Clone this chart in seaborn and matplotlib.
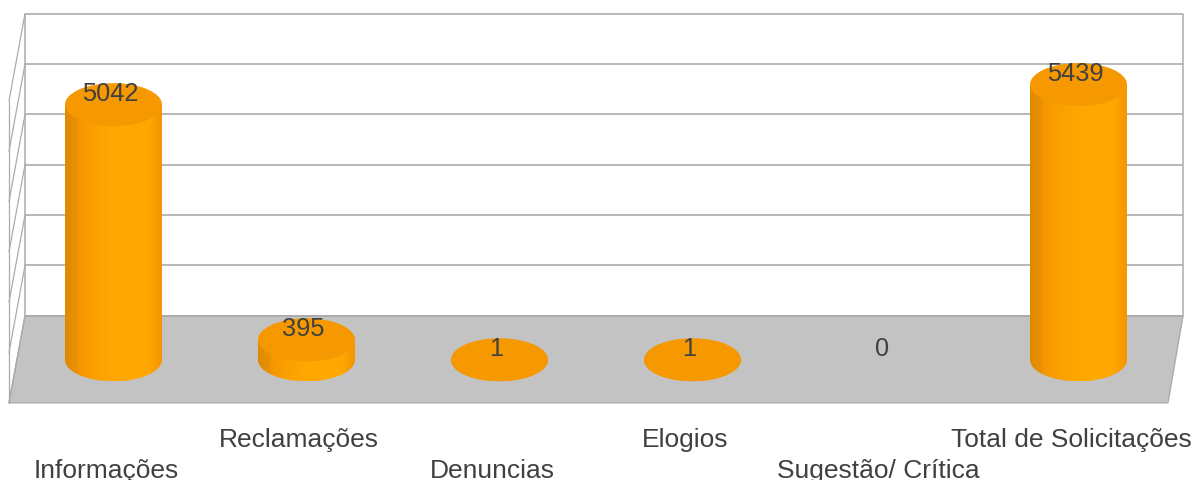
import numpy as np
import pandas as pd
import matplotlib
matplotlib.use("Agg")
import matplotlib.pyplot as plt
import seaborn as sns
from matplotlib.colors import LinearSegmentedColormap
from matplotlib.patches import Ellipse, Polygon
from matplotlib.path import Path
from matplotlib.transforms import ScaledTranslation

categories = ["Informações", "Reclamações", "Denuncias", "Elogios",
              "Sugestão/ Crítica", "Total de Solicitações"]
values = [5042, 395, 1, 1, 0, 5439]
grid_levels = [0, 1000, 2000, 3000, 4000, 5000, 6000]

W, H = 1196, 481
DPI = 100
TEXT = "#404040"
LINE = "#ABABAB"
TOP = "#F69800"

sns.set_theme(style="white")
plt.rcParams["font.family"] = ["Liberation Sans", "DejaVu Sans"]

fig = plt.figure(figsize=(W / DPI, H / DPI), dpi=DPI, facecolor="white")

# --- pseudo-3D chart box, in pixel coordinates ---
bg = fig.add_axes([0, 0, 1, 1])
bg.set_xlim(0, W)
bg.set_ylim(H - 0.8, -0.8)
bg.axis("off")
back_l, back_r, floor_y = 25, 1183, 316
front_l, front_r, front_y = 9, 1168, 403
step = (316 - 14) / 6000
bg.add_patch(Polygon([(front_l, front_y), (front_r, front_y), (back_r, floor_y), (back_l, floor_y)],
                     closed=True, facecolor="#C3C3C3", edgecolor=LINE, lw=1.0))
for lv in grid_levels:
    y = floor_y - lv * step
    bg.plot([back_l, back_r], [y, y], color=LINE, lw=1.2, solid_capstyle="butt")
    bg.plot([back_l, front_l], [y, y + front_y - floor_y], color=LINE, lw=0.9)
top_y = floor_y - grid_levels[-1] * step
bg.plot([back_l, back_l], [top_y, floor_y], color=LINE, lw=1.1)
bg.plot([back_r, back_r], [top_y, floor_y], color=LINE, lw=1.1)
bg.plot([front_l, front_l], [top_y + front_y - floor_y, front_y], color=LINE, lw=0.9)

# --- bars on a value scale ---
px_per_unit = 0.0506
base_px = 360.8
spacing = 193.0
first_px = 113.5
ell_h = 43 / px_per_unit
bar_w = 97 / spacing

ax = fig.add_axes([0, (H - front_y) / H, 1, front_y / H])
ax.patch.set_alpha(0)
df = pd.DataFrame({"categoria": categories, "valor": values})
sns.barplot(data=df, x="categoria", y="valor", ax=ax, width=bar_w,
            color="#FFA800", saturation=1, linewidth=0, zorder=2)
ax.set_xlim(-first_px / spacing, (W - first_px) / spacing)
ax.set_ylim((base_px - front_y) / px_per_unit, base_px / px_per_unit)
ax.set_xlabel("")
ax.set_ylabel("")
ax.set_yticks([])
for s in ax.spines.values():
    s.set_visible(False)

cmap = LinearSegmentedColormap.from_list("cyl", [
    (0.00, "#E08A00"), (0.11, "#EA9000"), (0.14, "#F59600"), (0.25, "#FB9D00"),
    (0.45, "#FFA600"), (0.65, "#FFA900"), (0.88, "#FFA600"), (0.93, "#F99D00"), (1.00, "#F39600")])
grad = np.linspace(0, 1, 128).reshape(1, -1)

for patch, v in zip(ax.patches, values):
    if v <= 0:
        continue
    x0, w, h = patch.get_x(), patch.get_width(), patch.get_height()
    cx = x0 + w / 2
    th = np.linspace(np.pi, 2 * np.pi, 60)
    low = np.column_stack([cx + w / 2 * np.cos(th), ell_h / 2 * np.sin(th)])
    verts = np.vstack([[[x0, h]], low, [[x0 + w, h]], [[x0, h]]])
    clip = Path(verts)
    im = ax.imshow(grad, cmap=cmap, extent=(x0, x0 + w, -ell_h / 2, h),
                   aspect="auto", zorder=3, interpolation="bilinear")
    im.set_clip_path(clip, transform=ax.transData)
    patch.set_visible(False)
    ax.add_patch(Ellipse((cx, h), w, ell_h, facecolor=TOP, edgecolor="none", zorder=4))
ax.set_xlim(-first_px / spacing, (W - first_px) / spacing)
ax.set_ylim((base_px - front_y) / px_per_unit, base_px / px_per_unit)

for i, v in enumerate(values):
    ax.annotate(str(v), (i, v), xytext=(-2.2, 8.4), textcoords="offset points",
                ha="center", va="center", fontsize=18.3, color=TEXT, zorder=6)

# --- staggered category labels ---
ax.tick_params(axis="x", length=0)
fig.canvas.draw()
for i, tick in enumerate(ax.xaxis.get_major_ticks()):
    tick.set_pad(18.2 if i % 2 else 40.0)
for label in ax.get_xticklabels():
    label.set_fontsize(19)
    label.set_color(TEXT)
shift = ScaledTranslation(-7.5 / DPI, 0, fig.dpi_scale_trans)
for label in ax.get_xticklabels():
    label.set_transform(label.get_transform() + shift)

fig.savefig("out.png", dpi=DPI, facecolor="white")
